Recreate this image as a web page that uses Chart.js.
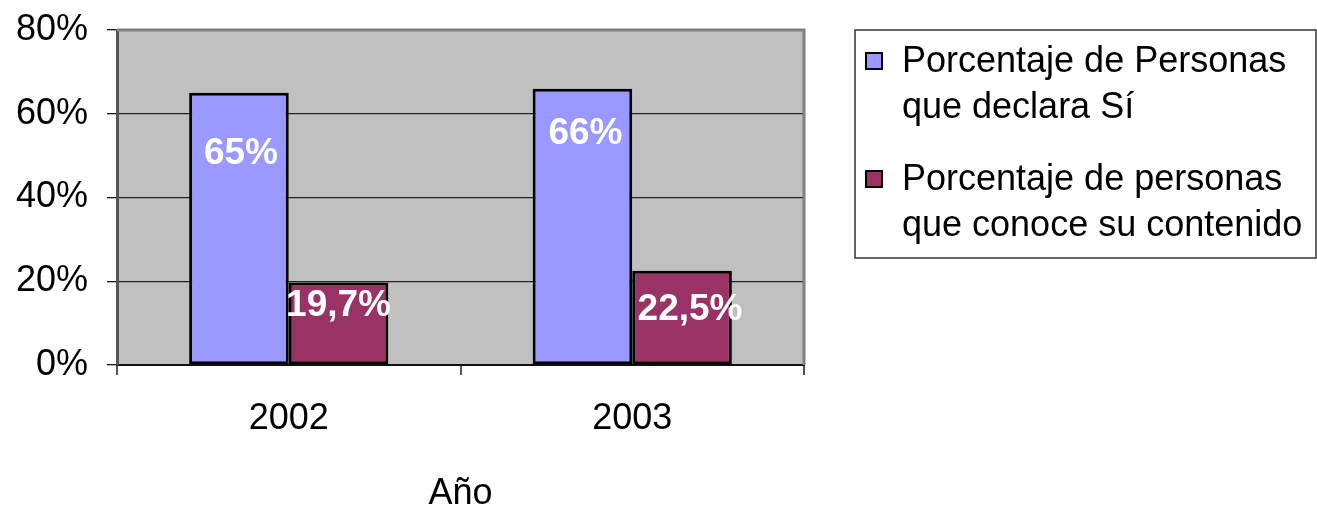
<!DOCTYPE html>
<html>
<head>
<meta charset="utf-8">
<script src="https://cdn.jsdelivr.net/npm/chart.js@4.4.1/dist/chart.umd.min.js"></script>
<style>
  html, body { margin: 0; padding: 0; background: #fff; }
  canvas { display: block; }
</style>
</head>
<body>
<canvas id="myChart" width="1317" height="507"></canvas>
<script>
// data
const years = ['2002', '2003'];
const declaraSi = [65, 66];
const conoceContenido = [19.7, 22.5];
const valueLabels = [['65%', '66%'], ['19,7%', '22,5%']];
const seriesNames = [
  ['Porcentaje de Personas', 'que declara Sí'],
  ['Porcentaje de personas', 'que conoce su contenido']
];
const yTicks = [0, 20, 40, 60, 80];

const FONT = '"Liberation Sans", Arial, sans-serif';

// gray plot background + gray top/right frame
const plotFrame = {
  id: 'plotFrame',
  beforeDraw(chart) {
    const { ctx, chartArea: a } = chart;
    ctx.save();
    ctx.fillStyle = '#c0c0c0';
    ctx.fillRect(a.left, a.top, a.right - a.left, a.bottom - a.top);
    ctx.restore();
  },
  afterDraw(chart) {
    const { ctx, chartArea: a } = chart;
    ctx.save();
    ctx.strokeStyle = '#808080';
    ctx.lineWidth = 3;
    ctx.beginPath();
    ctx.moveTo(a.left, a.top);
    ctx.lineTo(a.right, a.top);
    ctx.lineTo(a.right, a.bottom);
    ctx.stroke();
    ctx.restore();
  }
};

// white bold value labels inside the bars
const barLabels = {
  id: 'barLabels',
  afterDatasetsDraw(chart, args, opts) {
    const { ctx } = chart;
    ctx.save();
    ctx.fillStyle = '#fff';
    ctx.font = 'bold 37px ' + FONT;
    ctx.textAlign = 'center';
    ctx.textBaseline = 'middle';
    chart.data.datasets.forEach((ds, i) => {
      chart.getDatasetMeta(i).data.forEach((bar, j) => {
        const off = opts.offsets[i][j];
        ctx.fillText(valueLabels[i][j], bar.x + off[0], bar.y + off[1]);
      });
    });
    ctx.restore();
  }
};

// boxed legend on the right with two-line entries
const sideLegend = {
  id: 'sideLegend',
  afterDraw(chart) {
    const { ctx } = chart;
    const x0 = 855, y0 = 30, x1 = 1316, y1 = 258;
    ctx.save();
    ctx.fillStyle = '#fff';
    ctx.fillRect(x0, y0, x1 - x0, y1 - y0);
    ctx.strokeStyle = '#333';
    ctx.lineWidth = 1.5;
    ctx.strokeRect(x0, y0, x1 - x0, y1 - y0);
    ctx.font = '36px ' + FONT;
    ctx.textBaseline = 'middle';
    ctx.textAlign = 'left';
    chart.data.datasets.forEach((ds, i) => {
      const top = 61 + i * 118;
      ctx.fillStyle = ds.backgroundColor;
      ctx.fillRect(866, top - 8, 16, 16);
      ctx.strokeStyle = '#000';
      ctx.lineWidth = 2;
      ctx.strokeRect(866, top - 8, 16, 16);
      ctx.fillStyle = '#000';
      seriesNames[i].forEach((line, k) => {
        ctx.fillText(line, 902, top + 1 + k * 46);
      });
    });
    ctx.restore();
  }
};

const ctx = document.getElementById('myChart').getContext('2d');
new Chart(ctx, {
  type: 'bar',
  data: {
    labels: years,
    datasets: [{
      label: seriesNames[0].join(' '),
      data: declaraSi,
      backgroundColor: '#9999ff',
      borderColor: '#000',
      borderWidth: 3,
      borderSkipped: false,
      categoryPercentage: 0.58,
      barPercentage: 1
    }, {
      label: seriesNames[1].join(' '),
      data: conoceContenido,
      backgroundColor: '#993366',
      borderColor: '#000',
      borderWidth: 3,
      borderSkipped: false,
      categoryPercentage: 0.58,
      barPercentage: 1
    }]
  },
  options: {
    responsive: false,
    animation: false,
    layout: { padding: { top: 30, right: 513, left: 0, bottom: 0 } },
    plugins: {
      legend: { display: false },
      tooltip: { enabled: false },
      barLabels: { offsets: [[[2, 61], [3, 45]], [[0, 23], [8, 39]]] }
    },
    scales: {
      x: {
        afterFit(scale) { scale.height = 142; },
        grid: {
          offset: true,
          drawOnChartArea: false,
          drawTicks: true,
          tickLength: 10,
          color: '#555',
          lineWidth: 2
        },
        border: { display: true, color: '#111', width: 2 },
        ticks: {
          color: '#000',
          font: { family: FONT, size: 36 },
          padding: 22
        },
        title: {
          display: true,
          text: 'Año',
          color: '#000',
          font: { family: FONT, size: 36, lineHeight: 0.7 },
          padding: { top: 0, bottom: 0 }
        }
      },
      y: {
        min: 0,
        max: 80,
        afterFit(scale) {
          scale.width = 117;
          scale.paddingTop = 0;
          scale.paddingBottom = 0;
        },
        afterBuildTicks(scale) { scale.ticks = yTicks.map(v => ({ value: v })); },
        grid: {
          color: '#222',
          tickColor: '#111',
          tickLength: 10,
          lineWidth: 1.3
        },
        border: { display: true, color: '#555', width: 3 },
        ticks: {
          color: '#000',
          font: { family: FONT, size: 36 },
          padding: 19,
          callback: v => v + '%'
        }
      }
    }
  },
  plugins: [plotFrame, barLabels, sideLegend]
});
</script>
</body>
</html>
